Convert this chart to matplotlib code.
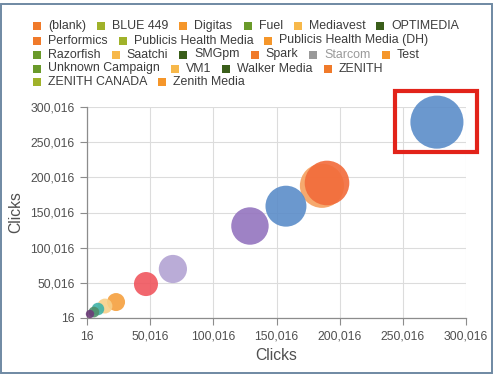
import matplotlib
matplotlib.use("Agg")
import matplotlib.pyplot as plt
from matplotlib.patches import Rectangle
import numpy as np

plt.rcParams['font.family'] = ['Liberation Sans', 'DejaVu Sans']

# ---- data ----
legend_names = ["(blank)", "BLUE 449", "Digitas", "Fuel", "Mediavest", "OPTIMEDIA",
                "Performics", "Publicis Health Media", "Publicis Health Media (DH)",
                "Razorfish", "Saatchi", "SMGpm", "Spark", "Starcom", "Test",
                "Unknown Campaign", "VM1", "Walker Media", "ZENITH",
                "ZENITH CANADA", "Zenith Media"]
legend_rows = [6, 3, 6, 4, 2]
legend_hidden = ["Starcom"]

bubble_x = [277000, 186000, 190000, 157500, 129000, 68000, 46700, 23000, 14200, 8700, 5500, 2400]
bubble_y = [278500, 188000, 192000, 159000, 130800, 69700, 48300, 22700, 17000, 12800, 8500, 5700]
bubble_size = [277000, 186000, 190000, 157500, 129000, 68000, 46700, 23000, 14200, 8700, 5500, 2400]
bubble_colors = ["#5b8dc9", "#f6a05e", "#f26b3a", "#5b8dc9", "#9474bf", "#b3a3d3",
                 "#f0565e", "#f5a03e", "#f8d08a", "#3fb3a9", "#4f8f6a", "#6b3b78"]

axis_min, axis_max, axis_step = 16, 300016, 50000
x_title = "Clicks"
y_title = "Clicks"

# ---- figure ----
W, H = 498, 379
fig = plt.figure(figsize=(W / 100, H / 100), dpi=100)
fig.patch.set_facecolor("white")

def px(x, y):
    return x / W, 1 - y / H

L, R, T, B = 87, 466, 107, 318
ax = fig.add_axes([L / W, 1 - B / H, (R - L) / W, (B - T) / H])
ax.set_xlim(axis_min, axis_max)
ax.set_ylim(axis_min, axis_max)
ticks = np.arange(axis_min, axis_max + 1, axis_step)
ax.set_xticks(ticks)
ax.set_yticks(ticks)
ax.set_xticklabels([f"{t:,}" for t in ticks])
ax.set_yticklabels([f"{t:,}" for t in ticks])
ax.grid(True, color="#dcdcdc", lw=0.8)
ax.set_axisbelow(True)
for s in ["top", "right"]:
    ax.spines[s].set_visible(False)
for s in ["left", "bottom"]:
    ax.spines[s].set_color("#8c8c8c")
    ax.spines[s].set_linewidth(0.9)
ax.tick_params(axis="both", colors="#8c8c8c", labelcolor="#505050", labelsize=8.8,
               length=5, width=0.8, pad=4)
ax.set_xlabel(x_title, fontsize=11.3, color="#505050", labelpad=4)
ax.set_ylabel(y_title, fontsize=11.3, color="#505050", labelpad=5)

sz = np.array(bubble_size, dtype=float)
r_px = 1.9 + 0.0468 * np.sqrt(sz)
s = (2 * r_px * 0.72) ** 2
ax.scatter(bubble_x, bubble_y, s=s, c=bubble_colors, alpha=0.9, linewidths=0,
           clip_on=False, zorder=3)

# ---- legend (manual flow layout) ----
cycle = ["#f07a2a", "#a0b22a", "#f5962a", "#6a9a2a", "#f7b84a", "#3a5e1a"]
fig.canvas.draw()
renderer = fig.canvas.get_renderer()
row_y = [26, 40.5, 54.5, 68.5, 82]
idx = 0
for r, n in enumerate(legend_rows):
    x = 33
    for k in range(n):
        name = legend_names[idx]
        hidden = name in legend_hidden
        col = "#999999" if hidden else cycle[idx % 6]
        fx, fy = px(x, row_y[r] + 4)
        fig.patches.append(Rectangle((fx, fy), 8 / W, 8 / H, transform=fig.transFigure,
                                     facecolor=col, edgecolor="none"))
        tx, ty = px(x + 15, row_y[r])
        t = fig.text(tx, ty, name, fontsize=8.9, color="#999999" if hidden else "#3c3c3c",
                     va="center", ha="left")
        w = t.get_window_extent(renderer).width
        x = x + 15 + w + 11
        idx += 1

# ---- red highlight box ----
x0, y0 = px(395, 152)
fig.patches.append(Rectangle((x0, y0), (477 - 395) / W, (152 - 91) / H,
                             transform=fig.transFigure, facecolor="none",
                             edgecolor="#e2231a", lw=3))

# ---- outer frame ----
fx0, fy0 = px(1, 373)
fig.patches.append(Rectangle((fx0, fy0), (492 - 1) / W, (373 - 4) / H,
                             transform=fig.transFigure, facecolor="none",
                             edgecolor="#6f89a3", lw=1.4))

fig.savefig("out.png", dpi=100)
